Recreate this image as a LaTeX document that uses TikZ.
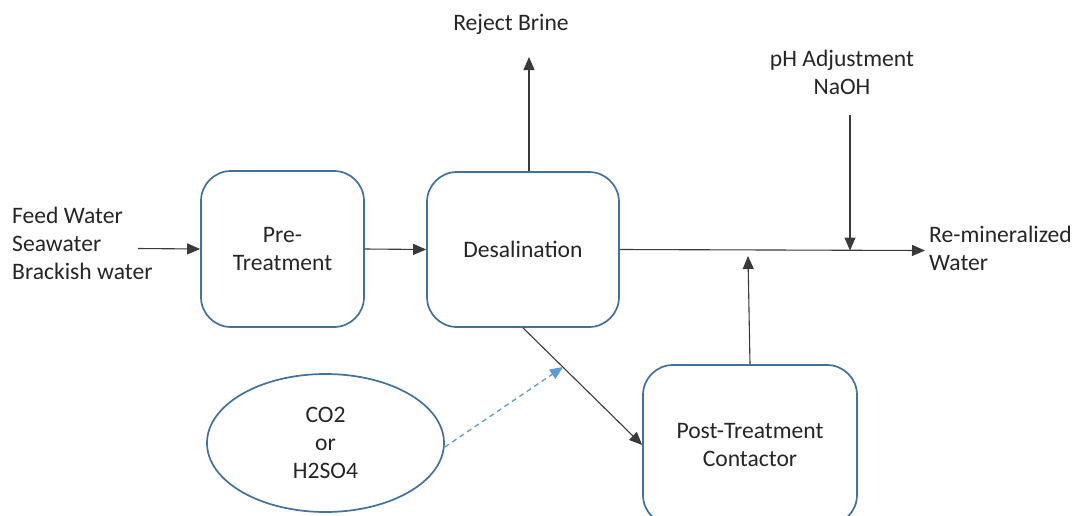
\documentclass[tikz,border=0pt]{standalone}
\usepackage{fontspec}
\setmainfont{Carlito}
\usetikzlibrary{arrows.meta,shapes.geometric}
\definecolor{boxblue}{HTML}{41719C}
\definecolor{dashblue}{HTML}{5B9BD5}
\definecolor{txt}{HTML}{262626}
\definecolor{ln}{HTML}{3A3A3A}
\tikzset{
  procbox/.style={draw=boxblue, line width=1.7pt, rounded corners=30pt, align=center, text=txt, inner sep=0pt},
  lbl/.style={text=txt, inner sep=0pt, align=center},
  flow/.style={draw=ln, line width=1.1pt, -{Triangle[length=13pt,width=11pt]}},
  dflow/.style={draw=dashblue, line width=1.3pt, dashed, dash pattern=on 5pt off 4pt, -{Triangle[length=13pt,width=11pt]}},
}
\begin{document}
\begin{tikzpicture}[x=1pt,y=-1pt, font=\fontsize{23.6}{28}\selectfont]
\useasboundingbox (0,0) rectangle (1072,515);
\clip (0,0) rectangle (1072,515);
\fill[white] (0,0) rectangle (1072,515);

\node[procbox, minimum width=163pt, minimum height=156pt] (pre) at (282.5,249) {Pre-\\Treatment};
\node[procbox, minimum width=192pt, minimum height=155pt] (desal) at (523,249.5) {Desalination};
\node[procbox, minimum width=214pt, minimum height=160pt] (post) at (750,445) {Post-Treatment\\Contactor};
\node[draw=boxblue, line width=1.7pt, ellipse, minimum width=237pt, minimum height=138pt, inner sep=0pt, align=center, text=txt] (co2) at (325.5,443) {CO2\\or\\H2SO4};

\node[lbl, align=left, anchor=west] (feed) at (12,243) {Feed Water\\Seawater\\Brackish water};
\node[lbl] (brine) at (511,24) {Reject Brine};
\node[lbl] (ph) at (842,72) {pH Adjustment\\NaOH};
\node[lbl, align=left, anchor=west] (out) at (929,248.5) {Re-mineralized\\Water};

\coordinate (feedstart) at (138,248.5);
\coordinate (brinetip) at (529,57);
\coordinate (outtip) at (925,250.5);
\coordinate (phstart) at (850,115);
\coordinate (phtip) at (850,250.5);
\coordinate (mixtip) at (748,256);
\coordinate (dashtip) at (563,367);

\draw[flow] (feedstart) -- (pre.west);
\draw[flow] (pre.east) -- (desal.west);
\draw[flow] (desal.north -| brinetip) -- (brinetip);
\draw[flow] (desal.east) -- (outtip);
\draw[flow] (phstart) -- (phtip);
\draw[flow] (post.north) -- (mixtip);
\draw[flow] (desal.south) -- (post.west);
\draw[dflow] ([yshift=-4pt]co2.east) -- (dashtip);
\end{tikzpicture}
\end{document}
